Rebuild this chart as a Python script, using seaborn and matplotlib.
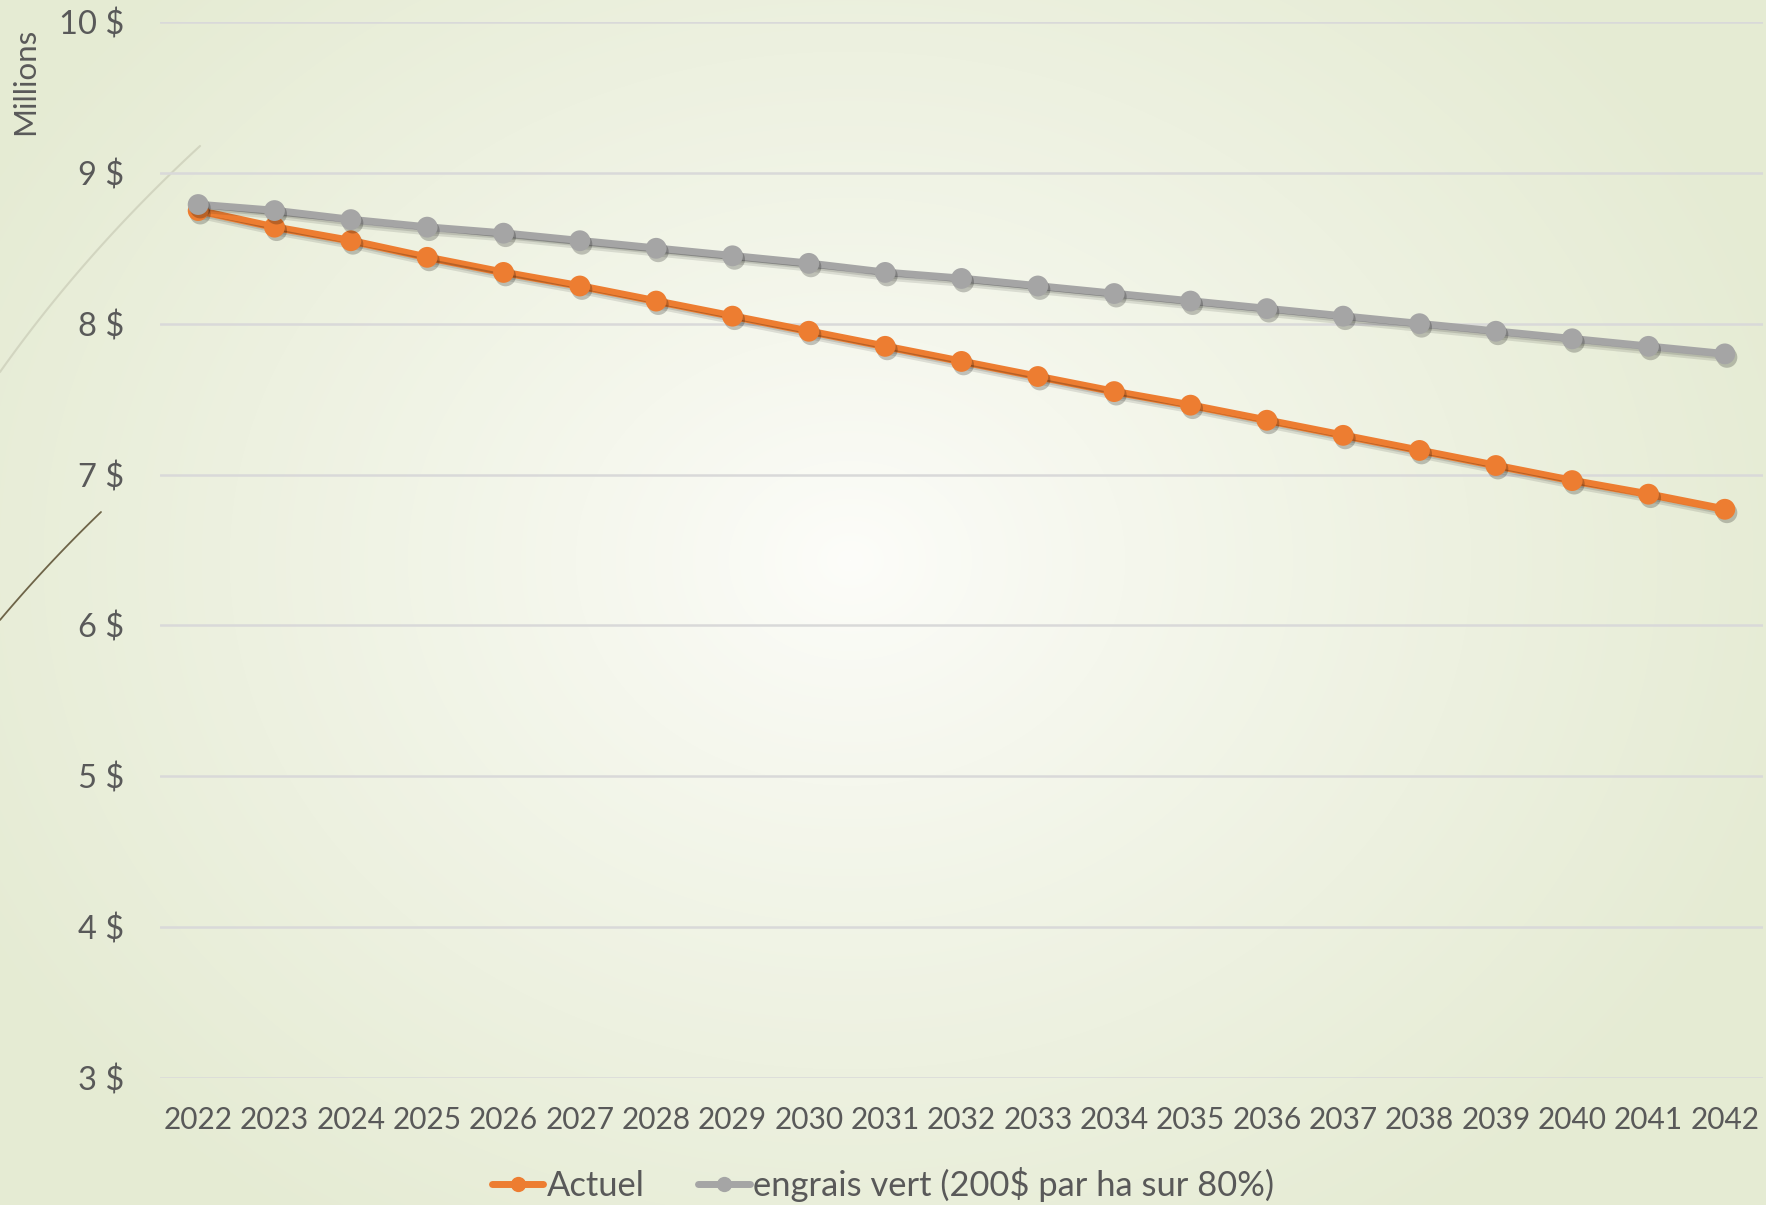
import numpy as np
import pandas as pd
import matplotlib
matplotlib.use("Agg")
import matplotlib.pyplot as plt
import matplotlib.patheffects as pe
from matplotlib.lines import Line2D
import seaborn as sns

# ---- data (millions of dollars) ----
years = [str(y) for y in range(2022, 2043)]
actuel = [8.75, 8.64, 8.55, 8.44, 8.34, 8.25, 8.15, 8.05, 7.95, 7.85, 7.75,
          7.65, 7.55, 7.46, 7.36, 7.26, 7.16, 7.06, 6.96, 6.87, 6.77]
engrais_vert = [8.79, 8.75, 8.69, 8.64, 8.60, 8.55, 8.50, 8.45, 8.40, 8.34, 8.30,
                8.25, 8.20, 8.15, 8.10, 8.05, 8.00, 7.95, 7.90, 7.85, 7.80]
series_names = ["Actuel", "engrais vert (200$ par ha sur 80%)"]
series_colors = ["#ED7D31", "#A5A5A5"]
y_ticks = [3, 4, 5, 6, 7, 8, 9, 10]
y_tick_labels = [f"{v} $" for v in y_ticks]

df = pd.DataFrame({
    "annee": years * 2,
    "valeur": actuel + engrais_vert,
    "serie": [series_names[0]] * len(years) + [series_names[1]] * len(years),
})

sns.set_theme(style="white")
plt.rcParams["font.family"] = ["Lato", "DejaVu Sans"]
TXT = "#595959"

W, H = 1766, 1205
fig = plt.figure(figsize=(W / 100, H / 100), dpi=100)

# ---- soft radial background ----
bg = fig.add_axes([0, 0, 1, 1], zorder=-10)
yy, xx = np.mgrid[0:H, 0:W]
r = np.sqrt(((xx - 850) / 1000.0) ** 2 + ((yy - 560) / 820.0) ** 2)
t = np.clip(r, 0, 1) ** 0.85
c_in = np.array([0xFD, 0xFD, 0xFA]) / 255.0
c_out = np.array([0xE5, 0xEB, 0xD3]) / 255.0
img = c_in[None, None, :] * (1 - t[..., None]) + c_out[None, None, :] * t[..., None]
bg.imshow(img, extent=[0, W, H, 0], aspect="auto")
# thin decorative theme curves on the left edge
s = np.linspace(0, 1, 50)
bx = 2 * (1 - s) * s * 85 + s ** 2 * 200
by = (1 - s) ** 2 * 372 + 2 * (1 - s) * s * 252 + s ** 2 * 146
bg.plot(bx, by, color="#D2D5C0", lw=1.5)
dx = 2 * (1 - s) * s * 48 + s ** 2 * 101
dy = (1 - s) ** 2 * 620 + 2 * (1 - s) * s * 563 + s ** 2 * 512
bg.plot(dx, dy, color="#6E6448", lw=1.3)
bg.set_xlim(0, W)
bg.set_ylim(H, 0)
bg.axis("off")

# ---- main chart ----
ax = fig.add_axes([160 / W, 1 - 1078 / H, (1763 - 160) / W, (1078 - 22) / H])
ax.set_facecolor("none")

line_fx = [pe.SimpleLineShadow(offset=(1.5, -2.5), shadow_color="black", alpha=0.10, linewidth=7),
           pe.SimpleLineShadow(offset=(1, -1.5), shadow_color="black", alpha=0.12), pe.Normal()]
mark_fx = [pe.SimplePatchShadow(offset=(1.5, -2.5), shadow_rgbFace="black", alpha=0.22), pe.Normal()]

for name, col in zip(series_names, series_colors):
    sub = df[df["serie"] == name]
    sns.lineplot(data=sub, x="annee", y="valeur", color=col, lw=5.5, ax=ax,
                 solid_capstyle="round", path_effects=line_fx, zorder=3, legend=False)
    sns.lineplot(data=sub, x="annee", y="valeur", color=col, lw=0, marker="o",
                 markersize=15, markeredgewidth=0, ax=ax, path_effects=mark_fx,
                 zorder=4, legend=False)

ax.set_xlim(-0.5, len(years) - 0.5)
ax.set_ylim(3, 10)
ax.set_yticks(y_ticks)
ax.set_yticklabels(y_tick_labels)
ax.set_xticks(range(len(years)))
ax.set_xticklabels(years)
ax.set_xlabel("")
ax.set_ylabel("")
ax.grid(axis="y", color="#D9D9D9", lw=1.8)
ax.grid(axis="x", visible=False)
ax.set_axisbelow(True)
for sp in ax.spines.values():
    sp.set_visible(False)
ax.tick_params(axis="y", length=0, pad=26, labelsize=23.5, labelcolor=TXT)
ax.tick_params(axis="x", length=0, pad=20, labelsize=21.5, labelcolor=TXT)

fig.text(25 / W, 1 - 81 / H, "Millions", rotation=90, ha="center", va="center",
         fontsize=22.5, color=TXT)

handles = [Line2D([], [], color=c, lw=5, marker="o", markersize=11, markeredgewidth=0)
           for c in series_colors]
leg = fig.legend(handles, series_names, loc="center", bbox_to_anchor=(0.5, 1 - 1185 / H),
                 ncol=2, frameon=False, handlelength=1.5, handletextpad=0.1,
                 columnspacing=1.55, fontsize=24.8)
for txt in leg.get_texts():
    txt.set_color(TXT)

fig.savefig("out.png", dpi=100)
